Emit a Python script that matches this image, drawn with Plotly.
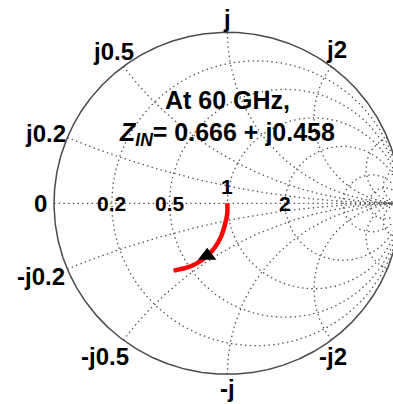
import numpy as np
import plotly.graph_objects as go

# Smith chart grid values (normalised impedance)
resistance_grid = [0.2, 0.5, 1, 2, 5, 10]
reactance_grid = [0.2, 0.5, 1, 2, 5, 10]

# Tick labels on the real axis
real_tick_values = [0.2, 0.5, 1, 2]
real_tick_labels = ["0.2", "0.5", "1", "2"]

# Tick labels round the rim (pure reactance points)
imag_tick_values = [0, 0.2, 0.5, 1, 2, -0.2, -0.5, -1, -2]
imag_tick_labels = ["0", "j0.2", "j0.5", "j", "j2", "-j0.2", "-j0.5", "-j", "-j2"]

# Normalised input impedance over the frequency sweep
zin_real = [1.0, 0.993, 0.945, 0.864, 0.766, 0.666, 0.561, 0.482, 0.400]
zin_imag = [0.0, -0.117, -0.236, -0.351, -0.424, -0.458, -0.466, -0.452, -0.421]

# Point highlighted at 60 GHz
marker_real = [0.666]
marker_imag = [-0.458]


def gamma(z):
    z = np.asarray(z, dtype=complex)
    return (z - 1) / (z + 1)


GRID = dict(color="#4d4d4d", width=1.3, dash="1.4px,3.3px")
FONT = "Liberation Sans, Arial, sans-serif"

fig = go.Figure()

# constant-resistance circles
t = np.tan(np.linspace(-np.pi / 2 + 1e-4, np.pi / 2 - 1e-4, 1200))
for r in resistance_grid:
    g = gamma(r + 1j * t)
    fig.add_trace(go.Scatter(x=g.real, y=g.imag, mode="lines", line=GRID,
                             hoverinfo="skip", showlegend=False))

# constant-reactance arcs
s = np.tan(np.linspace(0, np.pi / 2 - 1e-4, 1200))
for xv in reactance_grid:
    for sign in (1, -1):
        g = gamma(s + 1j * sign * xv)
        fig.add_trace(go.Scatter(x=g.real, y=g.imag, mode="lines", line=GRID,
                                 hoverinfo="skip", showlegend=False))

# real axis
g = gamma(np.concatenate([[0.0], np.tan(np.linspace(0, np.pi / 2 - 1e-4, 400))]))
fig.add_trace(go.Scatter(x=g.real, y=g.imag, mode="lines", line=GRID,
                         hoverinfo="skip", showlegend=False))

# outer rim (r = 0)
g = gamma(1j * t)
fig.add_trace(go.Scatter(x=np.append(g.real, g.real[0]), y=np.append(g.imag, g.imag[0]),
                         mode="lines", line=dict(color="#4a4a4a", width=1.5),
                         hoverinfo="skip", showlegend=False))

# impedance sweep
g = gamma(np.array(zin_real) + 1j * np.array(zin_imag))
fig.add_trace(go.Scatter(x=g.real, y=g.imag, mode="lines",
                         line=dict(color="#ff0000", width=4.5, shape="spline", smoothing=0.6),
                         showlegend=False))

# 60 GHz marker
g = gamma(np.array(marker_real) + 1j * np.array(marker_imag))
fig.add_trace(go.Scatter(x=g.real, y=g.imag, mode="markers",
                         marker=dict(symbol="triangle-up", size=16, color="black"),
                         showlegend=False))

# label offsets in pixels (right, down)
imag_offsets = {"0": (-14, 0), "j0.2": (-22, -4), "j0.5": (-10, -15), "j": (0, -14),
                "j2": (5, -17), "-j0.2": (-26, 7), "-j0.5": (-18, 16), "-j": (0, 14),
                "-j2": (2, 16)}
real_offsets = {"0.2": (0, 0), "0.5": (0, 0), "1": (0, -17), "2": (0, 0)}

annotations = []
for v, lab in zip(imag_tick_values, imag_tick_labels):
    p = gamma(1j * v)
    dx, dy = imag_offsets[lab]
    annotations.append(dict(x=float(p.real), y=float(p.imag), text="<b>" + lab + "</b>",
                            showarrow=False, xshift=dx, yshift=-dy,
                            xanchor="center", yanchor="middle",
                            font=dict(family=FONT, size=24, color="black")))
for v, lab in zip(real_tick_values, real_tick_labels):
    p = gamma(v)
    dx, dy = real_offsets[lab]
    annotations.append(dict(x=float(p.real), y=float(p.imag), text="<b>" + lab + "</b>",
                            showarrow=False, xshift=dx, yshift=-dy,
                            xanchor="center", yanchor="middle",
                            font=dict(family=FONT, size=21, color="black")))

title_font = dict(family=FONT, size=25, color="black")
annotations.append(dict(x=0, y=0.604, text="<b>At 60 GHz,</b>", showarrow=False,
                        xanchor="center", yanchor="middle", font=title_font))
annotations.append(dict(x=0, y=0.405,
                        text="<b><i>Z</i><sub><i>IN</i></sub>= 0.666 + j0.458</b>",
                        showarrow=False, xanchor="center", yanchor="middle", font=title_font))

fig.update_layout(
    width=393, height=404,
    margin=dict(l=0, r=0, t=0, b=0),
    paper_bgcolor="white", plot_bgcolor="white",
    xaxis=dict(range=[-1.3116, 0.9561], visible=False, fixedrange=True),
    yaxis=dict(range=[-1.1737, 1.1889], visible=False, fixedrange=True),
    annotations=annotations,
    showlegend=False,
)

fig.write_html("out.html")
